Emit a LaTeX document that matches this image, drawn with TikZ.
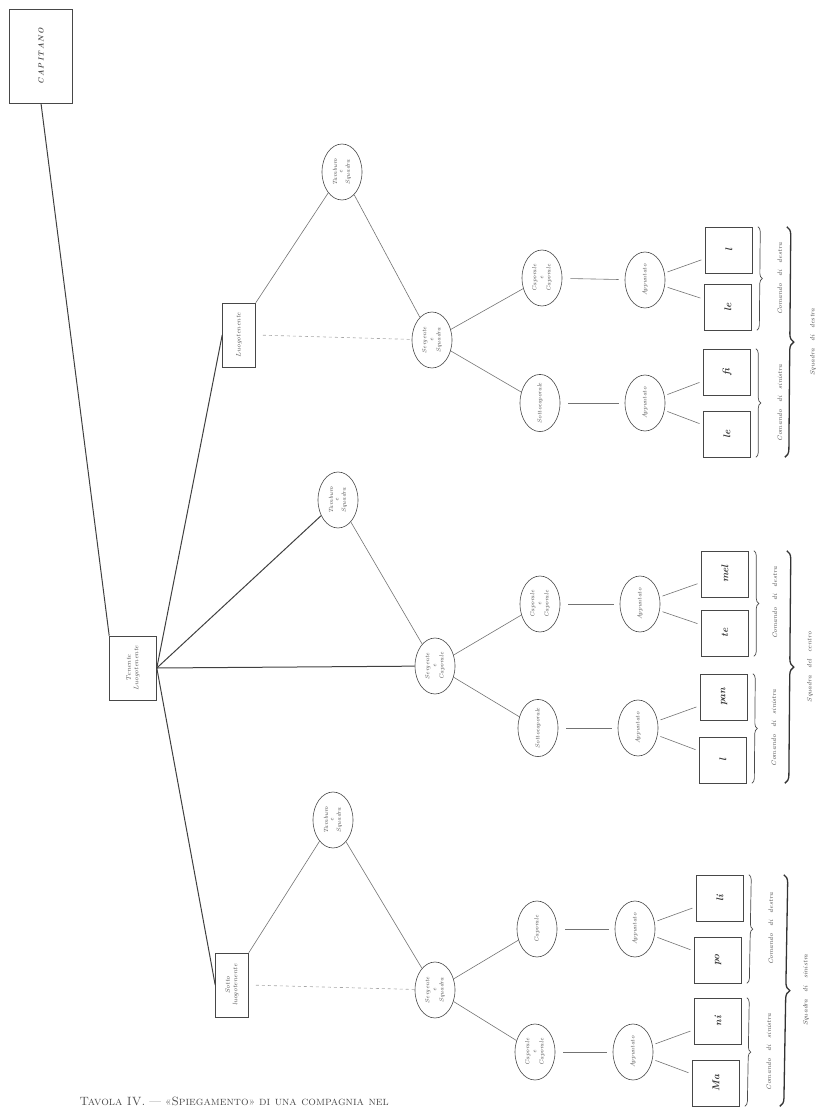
\documentclass[tikz,border=0pt]{standalone}
\usepackage{graphicx}
\usetikzlibrary{shapes.geometric,decorations.pathreplacing}
\newcommand{\up}[1]{\rotatebox{90}{#1}}
\newcommand{\upstack}[1]{\rotatebox{90}{\shortstack{#1}}}
\newcommand{\wsp}{\hspace{7pt}}
\begin{document}
\begin{tikzpicture}[x=1pt,y=-1pt,
  ink/.style={draw=black!72, line width=0.6pt},
  rank/.style={ink, rectangle, inner sep=1pt, font=\fontsize{6.5}{7.5}\selectfont\itshape, text=black!70},
  oval/.style={ink, ellipse, minimum width=40pt, minimum height=56pt, inner sep=0pt, font=\fontsize{6}{6.5}\selectfont\itshape, text=black!70},
  leaf/.style={ink, rectangle, minimum width=47pt, minimum height=46pt, inner sep=0pt, font=\fontsize{10}{10}\selectfont\itshape\bfseries, text=black!78},
  link/.style={draw=black!55, line width=0.6pt},
  faint/.style={draw=black!35, line width=0.6pt, dashed, shorten <=7pt},
  strong/.style={draw=black!75, line width=1pt},
  twig/.style={link, shorten <=3pt, shorten >=4pt},
  gap/.style={link, shorten <=8pt, shorten >=6pt},
  small brace/.style={decorate, decoration={brace, amplitude=5pt}, draw=black!70, line width=0.7pt},
  big brace/.style={decorate, decoration={brace, amplitude=8pt}, draw=black!80, line width=1.3pt},
  tag/.style={font=\fontsize{6.5}{7}\selectfont\itshape, text=black!70}
]
\useasboundingbox (0,0) rectangle (822,1114);

% --- command chain ---
\node[rank, minimum width=63pt, minimum height=94pt, font=\fontsize{7.5}{8}\selectfont\itshape\bfseries] (cap) at (41,56) {\up{C\,A\,P\,I\,T\,A\,N\,O}};
\node[rank, minimum width=47pt, minimum height=64pt] (ten) at (133,668) {\upstack{Tenente\\Luogotenente}};
\node[rank, minimum width=33pt, minimum height=64pt] (ua) at (239,335) {\up{Luogotenente}};
\node[rank, minimum width=33pt, minimum height=64pt] (ub) at (232,985) {\upstack{Sotto\\luogotenente}};

% --- second rank ---
\node[oval] (t1) at (342,172) {\upstack{Tamburo\\e\\Squadra}};
\node[oval] (t2) at (338,500) {\upstack{Tamburo\\e\\Squadra}};
\node[oval] (t3) at (333,820) {\upstack{Tamburo\\e\\Squadra}};
\node[oval] (s1) at (432,340) {\upstack{Sergente\\e\\Squadra}};
\node[oval] (s2) at (435,666) {\upstack{Sergente\\e\\Caporale}};
\node[oval] (s3) at (435,990) {\upstack{Sergente\\e\\Squadra}};

% --- corporals ---
\node[oval] (c1b) at (542,278) {\upstack{Caporale\\e\\Caporale}};
\node[oval] (c1a) at (540,403) {\up{Sottocaporale}};
\node[oval] (c2b) at (540,604) {\upstack{Caporale\\e\\Caporale}};
\node[oval] (c2a) at (538,728) {\up{Sottocaporale}};
\node[oval] (c3b) at (537,929) {\up{Caporale}};
\node[oval] (c3a) at (535,1052) {\upstack{Caporale\\e\\Caporale}};

\node[oval] (a1b) at (645,280) {\up{Appuntato}};
\node[oval] (a1a) at (645,403) {\up{Appuntato}};
\node[oval] (a2b) at (640,604) {\up{Appuntato}};
\node[oval] (a2a) at (638,728) {\up{Appuntato}};
\node[oval] (a3b) at (635,929) {\up{Appuntato}};
\node[oval] (a3a) at (633,1052) {\up{Appuntato}};

% --- files ---
\node[leaf] (f1) at (729,250) {\up{l}};
\node[leaf] (f2) at (728,307) {\up{le}};
\node[leaf] (f3) at (727,372) {\up{fi}};
\node[leaf] (f4) at (727,434) {\up{le}};
\node[leaf] (f5) at (725,574) {\up{mel}};
\node[leaf] (f6) at (725,633) {\up{te}};
\node[leaf] (f7) at (724,697) {\up{pan}};
\node[leaf] (f8) at (723,760) {\up{l}};
\node[leaf] (f9) at (720,898) {\up{li}};
\node[leaf] (f10) at (718,960) {\up{po}};
\node[leaf] (f11) at (718,1021) {\up{ni}};
\node[leaf] (f12) at (716,1083) {\up{Ma}};

% --- connectors ---
\draw[strong] (cap.south) -- (ten.north west);
\draw[strong] (ten.east) -- (ua.west);
\draw[strong] (ten.east) -- (t2);
\draw[strong] (ten.east) -- (s2);
\draw[strong] (ten.east) -- (ub.west);

\draw[link] (ua.north east) -- (t1);
\draw[faint] (ua.east) -- (s1);
\draw[link] (t1) -- (s1);
\draw[link] (t2) -- (s2);
\draw[link] (ub.north east) -- (t3);
\draw[faint] (ub.east) -- (s3);
\draw[link] (t3) -- (s3);

\foreach \g in {1,2,3}{
  \draw[link] (s\g) -- (c\g a);
  \draw[link] (s\g) -- (c\g b);
  \draw[gap] (c\g a) -- (a\g a);
  \draw[gap] (c\g b) -- (a\g b);
}
\draw[twig] (a1b) -- (f1);  \draw[twig] (a1b) -- (f2);
\draw[twig] (a1a) -- (f3);  \draw[twig] (a1a) -- (f4);
\draw[twig] (a2b) -- (f5);  \draw[twig] (a2b) -- (f6);
\draw[twig] (a2a) -- (f7);  \draw[twig] (a2a) -- (f8);
\draw[twig] (a3b) -- (f9);  \draw[twig] (a3b) -- (f10);
\draw[twig] (a3a) -- (f11); \draw[twig] (a3a) -- (f12);

% --- braces and their captions ---
\draw[small brace] ([xshift=5pt]f1.north east) -- ([xshift=5pt]f2.south east);
\draw[small brace] ([xshift=5pt]f3.north east) -- ([xshift=5pt]f4.south east);
\draw[small brace] ([xshift=5pt]f5.north east) -- ([xshift=5pt]f6.south east);
\draw[small brace] ([xshift=5pt]f7.north east) -- ([xshift=5pt]f8.south east);
\draw[small brace] ([xshift=5pt]f9.north east) -- ([xshift=5pt]f10.south east);
\draw[small brace] ([xshift=5pt]f11.north east) -- ([xshift=5pt]f12.south east);

\draw[big brace] ([xshift=34pt]f1.north east) -- ([xshift=34pt]f4.south east);
\draw[big brace] ([xshift=38pt]f5.north east) -- ([xshift=38pt]f8.south east);
\draw[big brace] ([xshift=40pt]f9.north east) -- ([xshift=40pt]f12.south east);

\node[tag] at (780,279) {\up{Comando\wsp di\wsp destra}};
\node[tag] at (780,403) {\up{Comando\wsp di\wsp sinistra}};
\node[tag] at (775,603) {\up{Comando\wsp di\wsp destra}};
\node[tag] at (774,728) {\up{Comando\wsp di\wsp sinistra}};
\node[tag] at (771,929) {\up{Comando\wsp di\wsp destra}};
\node[tag] at (769,1052) {\up{Comando\wsp di\wsp sinistra}};

\node[tag] at (813,342) {\up{Squadra\wsp di\wsp destra}};
\node[tag] at (810,667) {\up{Squadra\wsp del\wsp centro}};
\node[tag] at (806,990) {\up{Squadra\wsp di\wsp sinistra}};

% --- plate caption ---
\node[anchor=west, font=\fontsize{12}{12}\selectfont, text=black!70] (plate) at (76,1101)
  {\textsc{Tavola IV.} --- «\textsc{Spiegamento}» \textsc{di una compagnia nel}};
\end{tikzpicture}
\end{document}
